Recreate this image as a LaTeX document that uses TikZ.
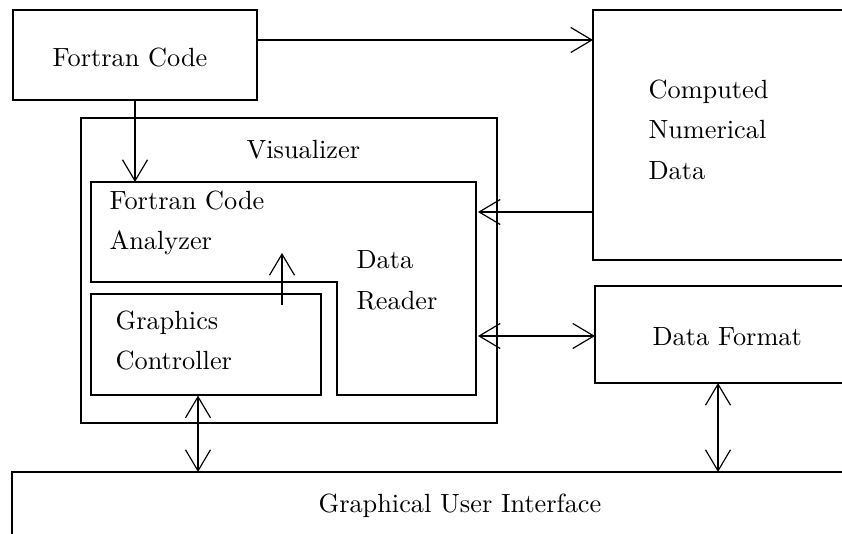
\documentclass[tikz,border=0pt]{standalone}
\usetikzlibrary{arrows.meta,fit}
\tikzset{
  box/.style={draw, inner sep=0pt},
  heavy/.style={line width=0.85pt},
  lbl/.style={inner sep=0pt, anchor=base west},
  multi/.style={inner sep=0pt, anchor=north west, align=left},
}
\begin{document}
\begin{tikzpicture}[x=0.38pt, y=-0.38pt, line width=0.45pt,
    >={Straight Barb[length=8pt,width=9.5pt]}]
  \useasboundingbox (0,0) rectangle (842,534);

  % closed boxes
  \node[box, fit={(13,10) (257,100)}] (fortran) {};
  \node[box, heavy, fit={(81,118) (497,423)}] (vis) {};
  \node[box, fit={(91,294) (321,395)}] (graphics) {};

  % analyzer and data reader share one L-shaped outline
  \draw (91,182) -- (476,182) -- (476,395) -- (337,395) -- (337,282)
        -- (91,282) -- cycle;

  % boxes running off the right and bottom edges
  \draw (842,10) -- (593,10) -- (593,260) -- (842,260);
  \draw (842,286) -- (595,286) -- (595,383) -- (842,383);
  \draw (842,472) -- (12,472) -- (12,534);

  % connector end points
  \coordinate (cnd in)    at (593,40);
  \coordinate (cnd out)   at (593,212);
  \coordinate (reader in) at (478,212);
  \coordinate (reader io) at (478,336);
  \coordinate (fmt io)    at (595,336);
  \coordinate (fmt down)  at (718,383);
  \coordinate (gui a)     at (198,472);
  \coordinate (gui b)     at (718,472);
  \coordinate (ana in)    at (135,182);
  \coordinate (ctl up)    at (282,305);
  \coordinate (ana up)    at (282,253);

  % connectors
  \draw[->] (fortran.east |- cnd in) -- (cnd in);
  \draw[->] (fortran.south -| ana in) -- (ana in);
  \draw[->] (cnd out) -- (reader in);
  \draw[<->] (reader io) -- (fmt io);
  \draw[->] (ctl up) -- (ana up);
  \draw[<->] (gui a |- graphics.south) -- (gui a);
  \draw[<->] (fmt down) -- (gui b);

  % labels
  \node[lbl] (t fortran) at (52,67) {Fortran Code};
  \node[lbl] (t vis) at (246,159) {Visualizer};
  \node[multi] (t ana) at (109,190) {Fortran Code\\[3.4pt]Analyzer};
  \node[multi] (t reader) at (356,250) {Data\\[3.4pt]Reader};
  \node[multi] (t ctl) at (115,310) {Graphics\\[3.4pt]Controller};
  \node[multi] (t cnd) at (648,79) {Computed\\[3.4pt]Numerical\\[3.4pt]Data};
  \node[lbl] (t fmt) at (652,346) {Data Format};
  \node[lbl] (t gui) at (318,513) {Graphical User Interface};
\end{tikzpicture}
\end{document}
